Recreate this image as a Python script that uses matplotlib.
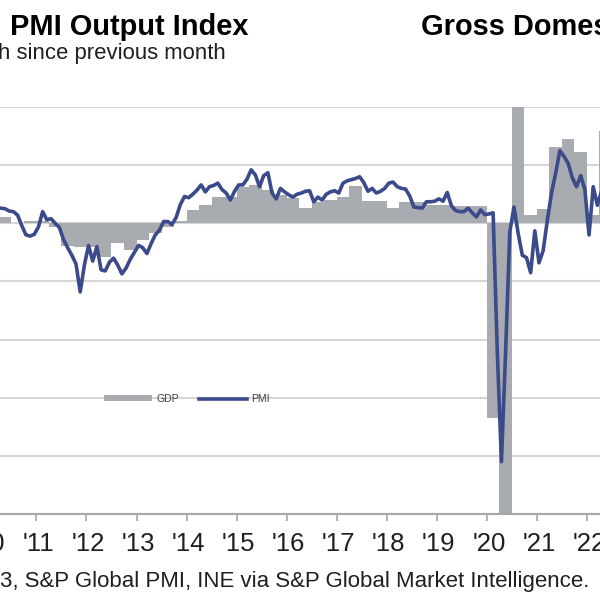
import numpy as np
import matplotlib
matplotlib.use("Agg")
import matplotlib.pyplot as plt
import matplotlib.transforms as mtransforms
from matplotlib.lines import Line2D
from matplotlib.patches import Patch

plt.rcParams['font.family'] = ['Liberation Sans', 'DejaVu Sans']

# PMI Output Index, monthly, first value = Mar 2010
pmi_2010 = [52.6, 52.6, 52.5, 52.1, 52.0, 51.4, 49.6, 48.0, 47.8, 48.1]
pmi_2011 = [49.4, 52.0, 50.6, 50.8, 50.0, 49.3, 47.2, 45.8, 44.5, 43.0, 38.2, 42.8]
pmi_2012 = [46.2, 43.5, 46.0, 42.0, 41.8, 43.3, 44.0, 42.8, 41.3, 42.3, 43.8, 45.0]
pmi_2013 = [46.2, 45.8, 44.8, 46.5, 48.0, 48.8, 50.3, 50.3, 49.8, 51.0, 53.2, 54.6]
pmi_2014 = [54.4, 55.0, 55.7, 56.6, 55.4, 56.3, 56.5, 56.9, 55.8, 55.2, 54.0, 55.5]
pmi_2015 = [56.6, 56.6, 57.6, 59.2, 58.3, 56.3, 58.2, 58.7, 55.2, 54.2, 56.0, 55.4]
pmi_2016 = [54.9, 54.5, 55.0, 55.2, 55.5, 55.6, 53.7, 54.5, 54.0, 55.0, 55.4, 55.6]
pmi_2017 = [55.2, 56.9, 57.3, 57.5, 57.7, 58.0, 57.0, 55.5, 56.0, 55.2, 55.5, 56.0]
pmi_2018 = [56.9, 57.1, 56.3, 56.0, 55.9, 54.7, 52.8, 52.7, 52.6, 53.7, 53.7, 53.8]
pmi_2019 = [54.2, 53.8, 55.3, 53.0, 52.2, 52.0, 52.0, 52.6, 51.8, 51.1, 52.3, 51.5]
pmi_2020 = [51.6, 51.8, 28.0, 9.0, 28.0, 48.5, 52.8, 48.3, 44.5, 44.1, 41.5, 48.7]
pmi_2021 = [43.2, 45.3, 50.5, 55.2, 58.6, 62.5, 61.5, 60.3, 57.8, 56.3, 58.2, 55.8]
pmi_2022 = [48.0, 56.3, 53.1, 55.5]

# GDP, % change on previous quarter, first value = Q2 2010
gdp_2010 = [0.17, 0.02, 0.05]
gdp_2011 = [0.05, -0.10, -0.58, -0.60]
gdp_2012 = [-0.60, -0.86, -0.52, -0.69]
gdp_2013 = [-0.43, -0.26, -0.09, 0.05]
gdp_2014 = [0.33, 0.47, 0.69, 0.69]
gdp_2015 = [0.93, 1.00, 0.86, 0.73]
gdp_2016 = [0.66, 0.40, 0.55, 0.60]
gdp_2017 = [0.69, 0.95, 0.58, 0.58]
gdp_2018 = [0.39, 0.56, 0.56, 0.47]
gdp_2019 = [0.46, 0.44, 0.44, 0.45]
gdp_2020 = [-5.03, -17.8, 16.4, 0.21]
gdp_2021 = [0.36, 1.98, 2.18, 1.85]
gdp_2022 = [0.21, 2.37]

years = list(range(2010, 2023))
year_labels = ["'" + str(y)[2:] for y in years]

pmi = pmi_2010 + pmi_2011 + pmi_2012 + pmi_2013 + pmi_2014 + pmi_2015 + pmi_2016 \
    + pmi_2017 + pmi_2018 + pmi_2019 + pmi_2020 + pmi_2021 + pmi_2022
gdp = gdp_2010 + gdp_2011 + gdp_2012 + gdp_2013 + gdp_2014 + gdp_2015 + gdp_2016 \
    + gdp_2017 + gdp_2018 + gdp_2019 + gdp_2020 + gdp_2021 + gdp_2022

# decimal-year positions: months at mid-month, quarters from their start
t_pmi = 2010 + 2.5 / 12 + np.arange(len(pmi)) / 12
t_gdp = 2010.25 + np.arange(len(gdp)) * 0.25

navy = '#3b4a8a'
bar_grey = '#a8abaf'
grid_grey = '#d6d6d6'

fig = plt.figure(figsize=(6, 6), dpi=100)
ax = fig.add_axes([-0.05, 1 - 514 / 600, 1.1, 407 / 600])
ax2 = ax.twinx()

ax.bar(t_gdp, gdp, width=0.25, align='edge', color=bar_grey, linewidth=0)
ax2.plot(t_pmi, pmi, color=navy, lw=2.6, solid_joinstyle='round')

ax.set_xlim(2009.6733, 2022.8601)
ax.set_ylim(-7.5, 3.0)
ax2.set_ylim(0, 70)

ax.set_yticks(np.arange(-7.5, 3.01, 1.5))
ax.grid(axis='y', color=grid_grey, lw=1.5)
ax.set_axisbelow(True)
ax.tick_params(axis='y', left=False, labelleft=False)
ax2.tick_params(axis='y', right=False, labelright=False)
ax2.set_yticks([])

for a in (ax, ax2):
    for s in ('left', 'right', 'top'):
        a.spines[s].set_visible(False)
ax2.spines['bottom'].set_visible(False)
ax.spines['bottom'].set_color('#a6a6a6')
ax.spines['bottom'].set_linewidth(1.5)

ax.set_xticks(years)
ax.set_xticklabels(year_labels)
ax.tick_params(axis='x', direction='out', length=5, width=1.2, color='#a6a6a6',
               labelsize=18.5, labelcolor='#1f1f1f', pad=8)
shift = mtransforms.ScaledTranslation(2 / 100, 0, fig.dpi_scale_trans)
for lbl in ax.get_xticklabels():
    lbl.set_transform(lbl.get_transform() + shift)

handles = [Patch(facecolor=bar_grey, edgecolor='none'),
           Line2D([0], [0], color=navy, lw=2.6)]
fig.legend(handles, ['GDP', 'PMI'], ncol=2, loc='center left',
           bbox_to_anchor=(104 / 600, 1 - 399 / 600), frameon=False,
           borderpad=0, borderaxespad=0, fontsize=7.5, labelcolor='#404040',
           handlelength=4.6, handleheight=0.5, handletextpad=0.4,
           columnspacing=2.0)

fig.text(9.6 / 600, 1 - 35 / 600, 'PMI Output Index', fontsize=20.9,
         fontweight='bold', va='baseline')
fig.text(421 / 600, 1 - 35 / 600, 'Gross Domestic Product', fontsize=20.9,
         fontweight='bold', va='baseline')
fig.text(226 / 600, 1 - 59 / 600, 'growth since previous month', fontsize=15.9,
         ha='right', va='baseline', color='#1f1f1f')
fig.text(589 / 600, 1 - 587 / 600,
         '3, S&P Global PMI, INE via S&P Global Market Intelligence.',
         fontsize=16, ha='right', va='baseline', color='#1f1f1f')

fig.savefig('out.png', dpi=100)
